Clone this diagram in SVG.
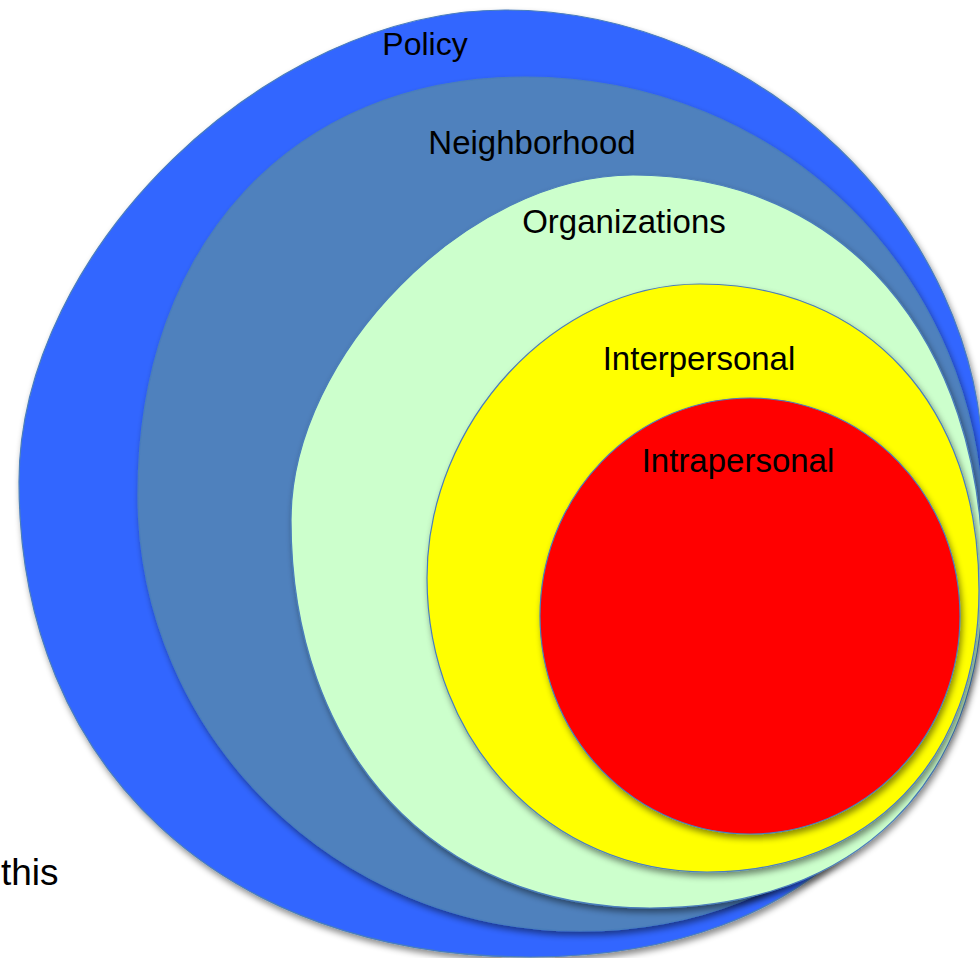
<svg xmlns="http://www.w3.org/2000/svg" width="980" height="958" viewBox="0 0 980 958">
  <defs>
    <filter id="shade" x="-10%" y="-10%" width="125%" height="125%">
      <feDropShadow dx="2" dy="4" stdDeviation="3" flood-color="#000" flood-opacity="0.45"/>
    </filter>
  </defs>
  <style>
    .ring { stroke: #4a7ebb; stroke-width: 1.2; filter: url(#shade); }
    .label { font-family: "Liberation Sans", Arial, sans-serif; font-size: 33px; fill: #000; text-anchor: middle; }
  </style>
  <rect width="980" height="958" fill="#fff"/>

  <!-- nested levels, outermost first -->
  <g id="policy">
    <path class="ring" fill="#3366ff" d="M505,10 C758,10 983,226 983,470 C983,782 820,957 530,957 C223,957 19,767 19,482 C19,251 267,10 505,10Z"/>
  </g>
  <g id="neighborhood">
    <path class="ring" fill="#4f81bd" d="M525,77 C781,77 983,276 983,530 C983,763 814,931 580,931 C337,931 138,735 138,495 C138,244 293,77 525,77Z"/>
  </g>
  <g id="organizations">
    <path class="ring" fill="#ccffcc" d="M633,175 C843,175 983,337 983,580 C983,783 856,908 650,908 C435,908 291,753 291,520 C291,354 469,175 633,175Z"/>
  </g>
  <g id="interpersonal">
    <path class="ring" fill="#ffff00" d="M700,284 C867,284 979,406 979,590 C979,759 870,872 707,872 C550,872 427,743 427,578 C427,422 555,284 700,284Z"/>
  </g>
  <g id="intrapersonal">
    <ellipse class="ring" fill="#ff0000" cx="750" cy="616" rx="210" ry="218"/>
  </g>

  <g id="labels">
    <text class="label" x="425" y="55" style="font-size:32px">Policy</text>
    <text class="label" x="532" y="154">Neighborhood</text>
    <text class="label" x="624" y="233">Organizations</text>
    <text class="label" x="699" y="370">Interpersonal</text>
    <text class="label" x="738" y="472">Intrapersonal</text>
    <text x="1" y="885" style="font-family:'Liberation Sans', Arial, sans-serif; font-size:37px">this</text>
  </g>
</svg>
